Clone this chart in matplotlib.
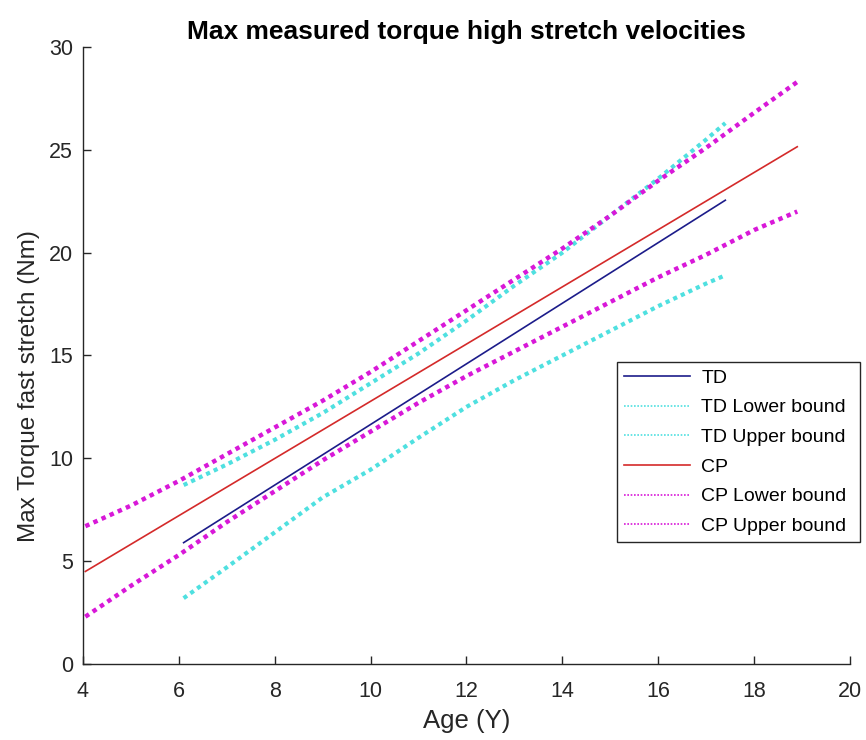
import matplotlib
matplotlib.use("Agg")
import matplotlib.pyplot as plt

plt.rcParams['font.family'] = ['Liberation Sans', 'DejaVu Sans']

# ---- data ----
cp_x = [4.05, 18.9]
cp_y = [4.5, 25.15]

cpb_x = [4.05, 5, 6, 7, 8, 9, 10, 11, 12, 13, 14, 15, 16, 17, 18, 18.9]
cp_upper = [6.7, 7.7, 8.9, 10.2, 11.5, 12.8, 14.2, 15.7, 17.2, 18.7, 20.2, 21.8, 23.5, 25.1, 26.8, 28.3]
cp_lower = [2.3, 3.8, 5.3, 6.9, 8.4, 9.9, 11.3, 12.7, 14.0, 15.2, 16.4, 17.6, 18.8, 19.9, 21.1, 22.0]

td_x = [6.1, 17.4]
td_y = [5.9, 22.55]

tdb_x = [6.1, 7, 8, 9, 10, 11, 12, 13, 14, 15, 16, 17, 17.4]
td_upper = [8.7, 9.7, 10.9, 12.2, 13.65, 15.1, 16.7, 18.4, 20.0, 21.8, 23.6, 25.5, 26.3]
td_lower = [3.2, 4.7, 6.4, 8.1, 9.45, 11.0, 12.5, 13.8, 15.0, 16.2, 17.4, 18.5, 18.9]

labels = ["TD", "TD Lower bound", "TD Upper bound", "CP", "CP Lower bound", "CP Upper bound"]

title = "Max measured torque high stretch velocities"
xlabel = "Age (Y)"
ylabel = "Max Torque fast stretch (Nm)"
xticks = [4, 6, 8, 10, 12, 14, 16, 18, 20]
yticks = [0, 5, 10, 15, 20, 25, 30]

# ---- styles ----
c_td = "#1c1c8a"
c_tdb = "#4fe0e0"
c_cp = "#d42a2a"
c_cpb = "#d818d8"
dot = (0, (1.0, 1.0))

fig = plt.figure(figsize=(8.66, 7.4), dpi=100)
ax = fig.add_axes([0.0958, 0.1027, 0.8857, 0.8338])

ax.plot(td_x, td_y, color=c_td, lw=1.2, label=labels[0])
ax.plot(tdb_x, td_lower, color=c_tdb, lw=3.0, linestyle=dot, label=labels[1])
ax.plot(tdb_x, td_upper, color=c_tdb, lw=3.0, linestyle=dot, label=labels[2])
ax.plot(cp_x, cp_y, color=c_cp, lw=1.2, label=labels[3])
ax.plot(cpb_x, cp_lower, color=c_cpb, lw=3.2, linestyle=dot, label=labels[4])
ax.plot(cpb_x, cp_upper, color=c_cpb, lw=3.2, linestyle=dot, label=labels[5])

ax.set_xlim(4, 20)
ax.set_ylim(0, 30)
ax.set_xticks(xticks)
ax.set_yticks(yticks)
ax.tick_params(direction='in', length=6, width=1, labelsize=15.5, colors='#262626')
ax.tick_params(axis='x', pad=12)
ax.tick_params(axis='y', pad=7)
for s in ['top', 'right']:
    ax.spines[s].set_visible(False)
for s in ['left', 'bottom']:
    ax.spines[s].set_color('#262626')
    ax.spines[s].set_linewidth(1.0)

ax.set_title(title, fontsize=19, fontweight='bold', pad=6)
ax.set_xlabel(xlabel, fontsize=18.5, color='#262626', labelpad=5)
ax.set_ylabel(ylabel, fontsize=17.5, color='#262626')
ax.yaxis.set_label_coords(-0.056, 0.45)

leg = ax.legend(loc='lower left', bbox_to_anchor=(0.696, 0.198, 0.317, 0.291),
                mode='expand', fontsize=14, handlelength=3.4, handletextpad=0.6,
                labelspacing=0.62, borderpad=0.35, borderaxespad=0,
                fancybox=False, framealpha=1, edgecolor='#262626')
leg.get_frame().set_linewidth(1.0)
for h in leg.get_lines():
    h.set_linewidth(1.2)

fig.savefig("out.png", dpi=100)
